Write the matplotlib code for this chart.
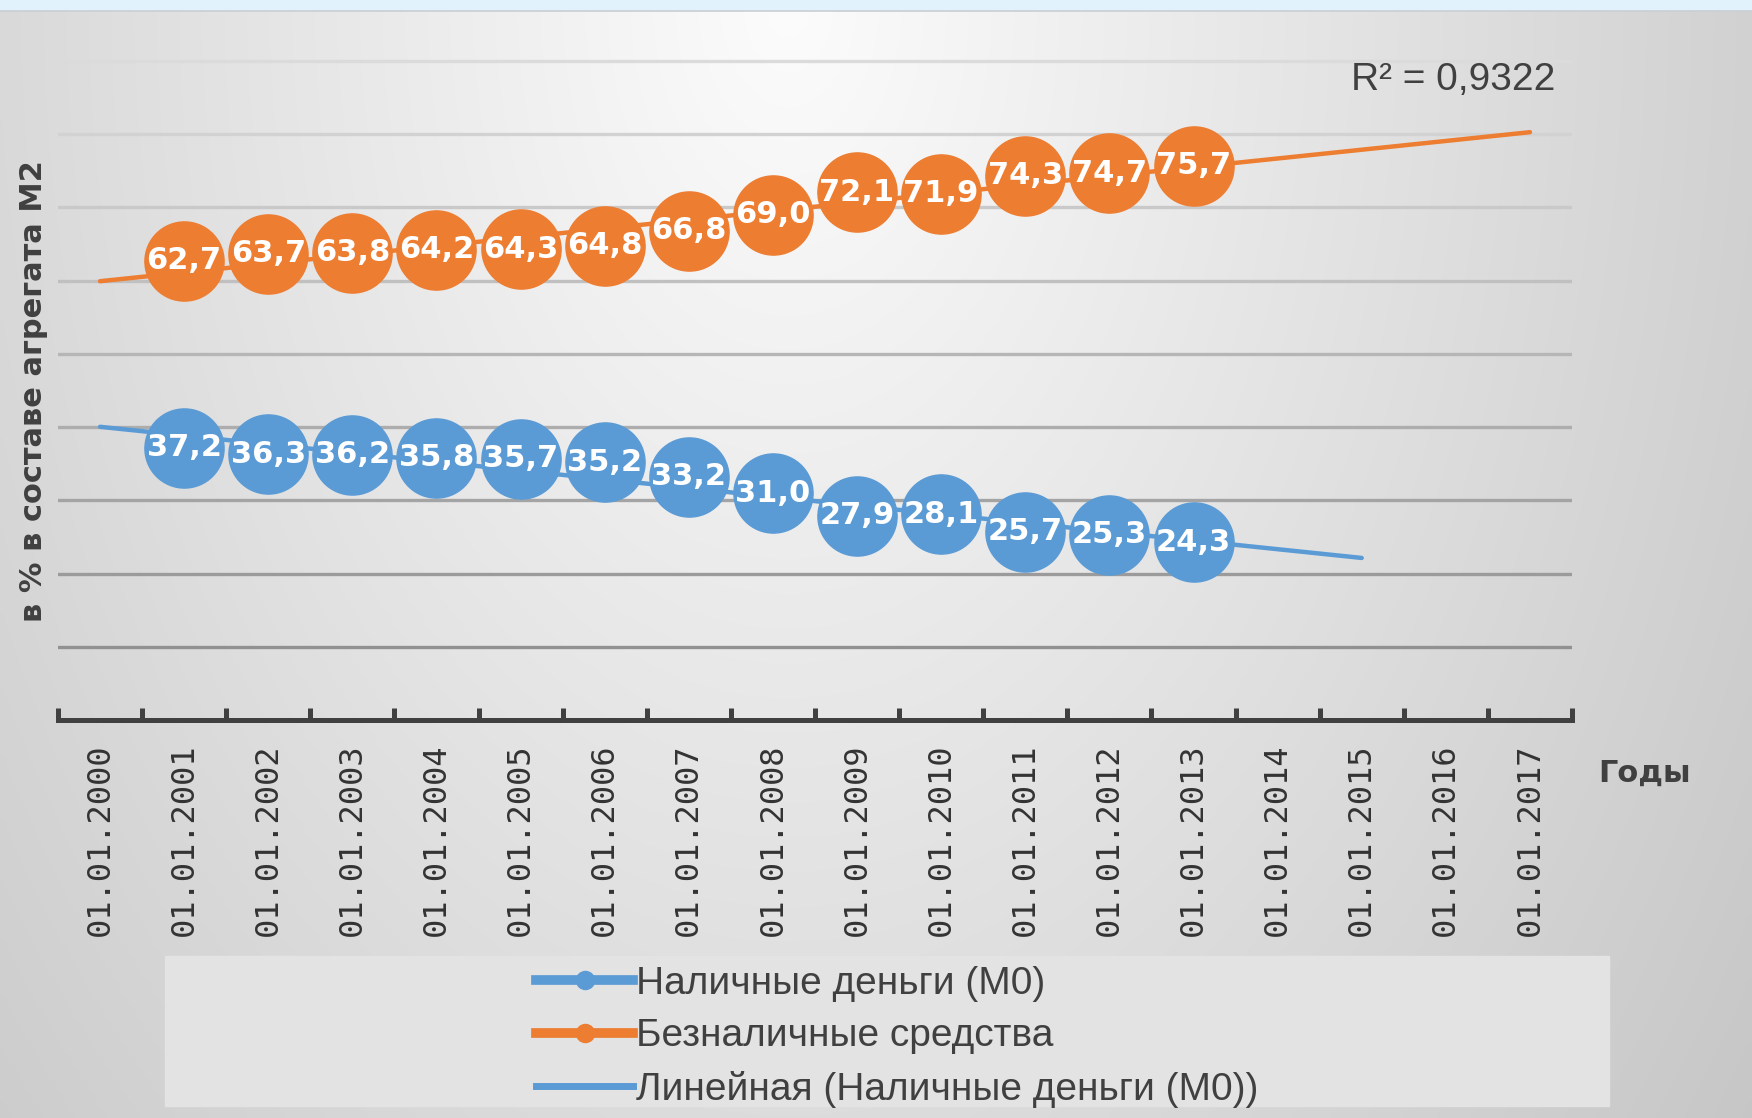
import numpy as np
import matplotlib
matplotlib.use("Agg")
import matplotlib.pyplot as plt
from matplotlib.lines import Line2D
from matplotlib.patches import Rectangle
from matplotlib import font_manager

YEARS = list(range(2000, 2018))
DATE_LABELS = [f"01.01.{y}" for y in YEARS]
DATA_YEARS = list(range(2001, 2014))
CASH_M0 = [37.2, 36.3, 36.2, 35.8, 35.7, 35.2, 33.2, 31.0, 27.9, 28.1, 25.7, 25.3, 24.3]
NONCASH = [62.7, 63.7, 63.8, 64.2, 64.3, 64.8, 66.8, 69.0, 72.1, 71.9, 74.3, 74.7, 75.7]
TREND_FROM = 2000
CASH_TREND_TO = 2015
NONCASH_TREND_TO = 2017
R2_TEXT = "R² = 0,9322"
SERIES_NAMES = ["Наличные деньги (М0)", "Безналичные средства", "Линейная (Наличные деньги (М0))"]

BLUE = "#5B9BD5"
ORANGE = "#ED7D31"
DARK = "#404040"

W, H = 1752, 1118
installed = {f.name for f in font_manager.fontManager.ttflist}
NARROW = "Liberation Sans Narrow" if "Liberation Sans Narrow" in installed else "Liberation Sans"


def fmt(v):
    return f"{v:.1f}".replace(".", ",")


fig = plt.figure(figsize=(W / 100, H / 100), dpi=100)

# background: soft radial grey gradient like the slide
bg = fig.add_axes([0, 0, 1, 1], zorder=-10)
gx, gy = np.meshgrid(np.linspace(0, 1, 350), np.linspace(0, 1, 224))
d = np.sqrt(((gx - 0.45) / 0.62) ** 2 + ((gy - 0.0) / 1.5) ** 2)
shade = np.clip(252 - 48 * np.clip(d, 0, 1.3), 0, 255) / 255
bg.imshow(np.dstack([shade] * 3), extent=(0, 1, 0, 1), origin="upper", aspect="auto", interpolation="bilinear")
bg.add_patch(Rectangle((0, 1 - 10 / H), 1, 10 / H, color="#e2f2fd", transform=bg.transAxes))
bg.axhline(1 - 11 / H, color="#c8ced3", lw=1.2)
bg.set_xlim(0, 1)
bg.set_ylim(0, 1)
bg.axis("off")

ax = fig.add_axes([58 / W, 1 - 720 / H, 1514 / W, (720 - 53.7) / H])
ax.patch.set_alpha(0)
ax.set_xlim(-0.5, len(YEARS) - 0.5)
ax.set_ylim(0, 91)

grid_cols = np.linspace(0.57, 0.86, 9)
for i, v in enumerate(range(10, 100, 10)):
    ax.axhline(v, color=str(grid_cols[i]), lw=2.4, zorder=1)

xd = np.array([YEARS.index(y) for y in DATA_YEARS])
x0 = YEARS.index(TREND_FROM)

for vals, col, end in [(CASH_M0, BLUE, CASH_TREND_TO), (NONCASH, ORANGE, NONCASH_TREND_TO)]:
    ax.plot(xd, vals, "o", color=col, ms=57, mec=col, zorder=3, clip_on=False)
    k, b = np.polyfit(xd, vals, 1)
    xt = np.array([x0, YEARS.index(end)])
    ax.plot(xt, k * xt + b, color=col, lw=3.2, zorder=4, solid_capstyle="round")
    for x, v in zip(xd, vals):
        ax.text(x, v, fmt(v), color="white", fontsize=22, fontweight="bold",
                ha="center", va="center", zorder=5)

ax.text(0.989, 0.96, R2_TEXT, transform=ax.transAxes, ha="right", va="center",
        fontsize=28, family=NARROW, color=DARK)

for s in ["top", "left", "right"]:
    ax.spines[s].set_visible(False)
ax.spines["bottom"].set_color(DARK)
ax.spines["bottom"].set_linewidth(3.6)
ax.set_yticks([])
ax.set_xticks(range(len(YEARS)))
ax.set_xticklabels(DATE_LABELS, rotation=90, family="DejaVu Sans Mono", fontsize=23, color="#333333")
ax.set_xticks(np.arange(-0.5, len(YEARS)), minor=True)
ax.tick_params(axis="x", which="major", length=0, pad=17)
ax.tick_params(axis="x", which="minor", direction="in", length=9, width=3.6, color=DARK)

fig.text(1645 / W, 1 - 773 / H, "Годы", ha="center", va="center", fontsize=22,
         fontweight="bold", color=DARK)
fig.text(34 / W, 1 - 391 / H, "в % в составе агрегата М2", rotation=90, ha="center",
         va="center", fontsize=22, fontweight="bold", color=DARK)

# legend panel
fig.patches.append(Rectangle((165 / W, 1 - 1106 / H), 1444 / W, 150 / H, color="#e3e3e3",
                             transform=fig.transFigure, zorder=0))
handles = [Line2D([], [], color=BLUE, lw=7, marker="o", ms=13),
           Line2D([], [], color=ORANGE, lw=7, marker="o", ms=13),
           Line2D([], [], color=BLUE, lw=5)]
fig.legend(handles, SERIES_NAMES, loc="upper left", bbox_to_anchor=(536 / W, 1 - 966 / H),
           frameon=False, prop={"family": NARROW, "size": 28}, labelcolor=DARK,
           handlelength=2.5, handletextpad=0.08, labelspacing=0.42, borderpad=0, borderaxespad=0)

fig.savefig("out.png", dpi=100)
